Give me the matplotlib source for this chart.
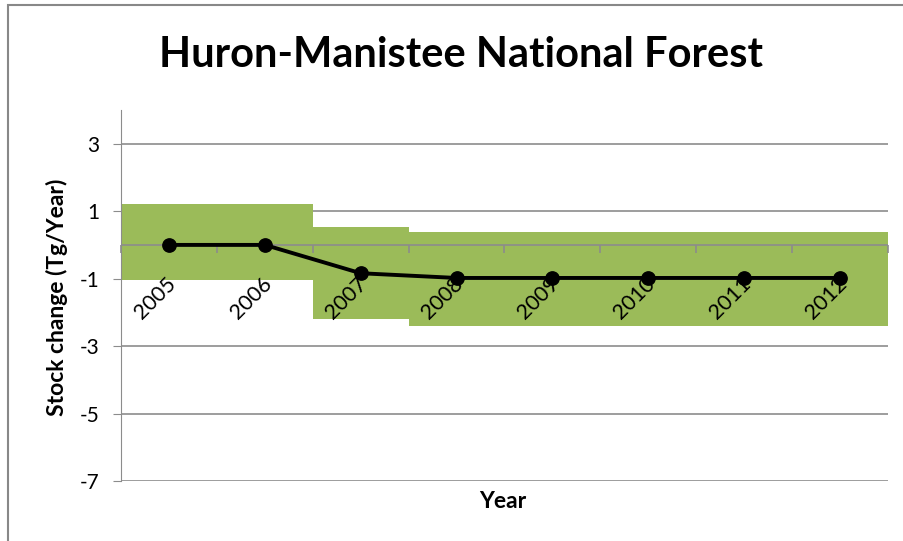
import numpy as np
import matplotlib.pyplot as plt
from matplotlib.patches import Rectangle
from matplotlib.transforms import ScaledTranslation

plt.rcParams["font.family"] = ["Lato", "DejaVu Sans"]
plt.rcParams["axes.unicode_minus"] = False

years = ["2005", "2006", "2007", "2008", "2009", "2010", "2011", "2012"]
stock_change = [0.0, 0.0, -0.84, -0.98, -0.98, -0.98, -0.98, -0.98]
band_low = [-1.05, -1.05, -2.19, -2.41, -2.41, -2.41, -2.41, -2.41]
band_high = [1.22, 1.22, 0.54, 0.39, 0.39, 0.39, 0.39, 0.39]

W, H = 904, 541
green = "#9BBB59"
grid_c = "#8C8C8C"


def main():
    fig = plt.figure(figsize=(W / 100, H / 100), dpi=100)
    # plot area in pixels: x 121..888, y 110..481
    ax = fig.add_axes([121 / W, 1 - 481 / H, (888 - 121) / W, (481 - 110) / H])

    x = np.arange(len(years))
    low = np.array(band_low)
    high = np.array(band_high)
    ax.bar(x, high - low, bottom=low, width=1.0, color=green, zorder=1)
    ax.plot(x, stock_change, color="black", lw=2.8, marker="o", ms=9.6, zorder=4)

    ax.set_xlim(-0.5, len(years) - 0.5)
    ax.set_ylim(-7, 4)
    ax.set_yticks([-7, -5, -3, -1, 1, 3])
    ax.set_axisbelow(True)
    ax.yaxis.grid(True, color=grid_c, lw=1.2)
    ax.tick_params(axis="y", length=5.8, color=grid_c, labelsize=15, pad=10)

    for s in ["top", "right", "bottom"]:
        ax.spines[s].set_visible(False)
    ax.spines["left"].set_color(grid_c)
    ax.set_xticks([])

    # category axis crossing at zero, drawn over the green band
    bounds = np.arange(len(years) + 1) - 0.5
    ax.axhline(0, color=grid_c, lw=1.2, zorder=2)
    ax.plot(bounds, np.zeros(len(bounds)), ls="", marker=3, ms=6, mew=1.2,
            mec=grid_c, zorder=2, clip_on=False)

    off = ScaledTranslation(0.035, -0.355, fig.dpi_scale_trans)
    for i, lab in enumerate(years):
        ax.text(i, 0, lab, rotation=45, rotation_mode="anchor", ha="right",
                va="center", fontsize=15.5, transform=ax.transData + off, zorder=3)

    fig.text(461 / W, 1 - 67 / H, "Huron-Manistee National Forest", ha="center",
             va="baseline", fontsize=30, fontweight="bold")
    fig.text(57 / W, 1 - 297 / H, "Stock change (Tg/Year)", rotation=90, ha="center",
             va="center", fontsize=16.5, fontweight="bold")
    fig.text(503 / W, 1 - 501 / H, "Year", ha="center", va="center",
             fontsize=16.5, fontweight="bold")

    # chart frame, cut off at right and bottom
    fig.add_artist(Rectangle((8 / W, -0.1), 1.2, 1.1 - 5 / H, transform=fig.transFigure,
                             fill=False, edgecolor="#888888", lw=1.5))

    fig.savefig("out.png", dpi=100)


if __name__ == "__main__":
    main()
